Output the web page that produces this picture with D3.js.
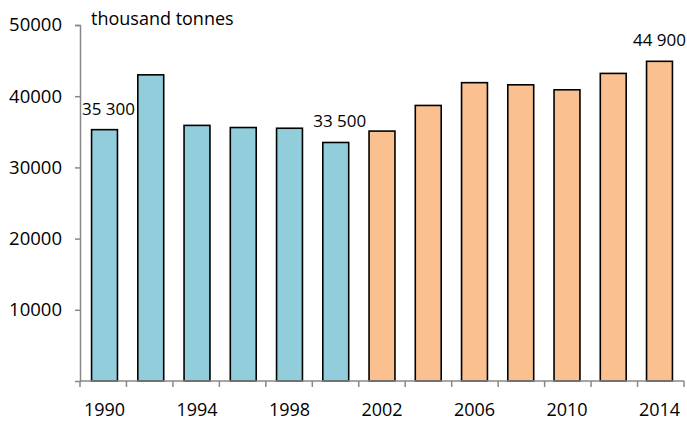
<!DOCTYPE html>
<html><head><meta charset="utf-8">
<script src="https://cdn.jsdelivr.net/npm/d3@7"></script>
<style>body{margin:0;background:#fff}svg{display:block}text{font-family:"Open Sans","Noto Sans",sans-serif;fill:#000}</style>
</head><body><svg id="c" width="687" height="421"></svg>
<script>
const years = [1990,1992,1994,1996,1998,2000,2002,2004,2006,2008,2010,2012,2014];
const values = [35300,43000,35900,35600,35500,33500,35100,38700,41900,41600,40900,43200,44900];
const groups = ["a","a","a","a","a","a","b","b","b","b","b","b","b"];
const yTicks = [10000,20000,30000,40000,50000];
const xLabels = [1990,1994,1998,2002,2006,2010,2014];
const labelled = {1990:"35 300",2000:"33 500",2014:"44 900"};
const unit = "thousand tonnes";
const colors = {a:"#92CDDC", b:"#FAC090"};

const svg = d3.select("#c");
const W=687, L=80, R=684, T=25, B=381;
const x = d3.scaleBand().domain(years).range([L,R]).paddingInner(0.44).paddingOuter(0.25);
const y = d3.scaleLinear().domain([0,50000]).range([B,T]);

// bars
svg.selectAll("rect.bar").data(years).enter().append("rect")
  .attr("x",d=>x(d)).attr("width",x.bandwidth())
  .attr("y",(d,i)=>y(values[i])).attr("height",(d,i)=>B-y(values[i]))
  .attr("fill",(d,i)=>colors[groups[i]]).attr("stroke","#000").attr("stroke-width",1.6);

// y axis
const ya = svg.append("g").attr("transform",`translate(${L},0)`)
  .call(d3.axisLeft(y).tickValues(yTicks).tickSize(5).tickFormat(d=>d));
ya.select(".domain").attr("stroke","#888").attr("stroke-width",1.5);
ya.selectAll(".tick line").attr("stroke","#888").attr("stroke-width",1.5);
ya.selectAll(".tick text").attr("x",-18).attr("font-size",18.5).attr("font-family","Open Sans");

// x axis
const xa = svg.append("g").attr("transform",`translate(0,${B})`);
xa.append("line").attr("x1",L).attr("x2",R).attr("stroke","#888").attr("stroke-width",1.5);
const edges = d3.range(years.length+1).map(i=>L+i*(R-L)/years.length);
xa.selectAll("line.tk").data(edges).enter().append("line").attr("class","tk")
  .attr("x1",d=>d).attr("x2",d=>d).attr("y1",0).attr("y2",6).attr("stroke","#888").attr("stroke-width",1.5);
xa.selectAll("text").data(xLabels).enter().append("text")
  .attr("x",d=>x(d)+x.bandwidth()/2).attr("y",35).attr("text-anchor","middle").attr("font-size",18).text(d=>d);

// unit label
svg.append("text").attr("x",91).attr("y",25).attr("font-size",18).text(unit);

// value labels
years.forEach((yr,i)=>{
  if(labelled[yr]){
    const t = svg.append("text").attr("y",y(values[i])-15)
      .attr("font-size",17).text(labelled[yr]);
    const w = t.node().getComputedTextLength();
    let cx = x(yr)+x.bandwidth()/2+4;
    let left = Math.min(cx - w/2, W - 1 - w);
    t.attr("x", left);
  }
});
</script></body></html>
